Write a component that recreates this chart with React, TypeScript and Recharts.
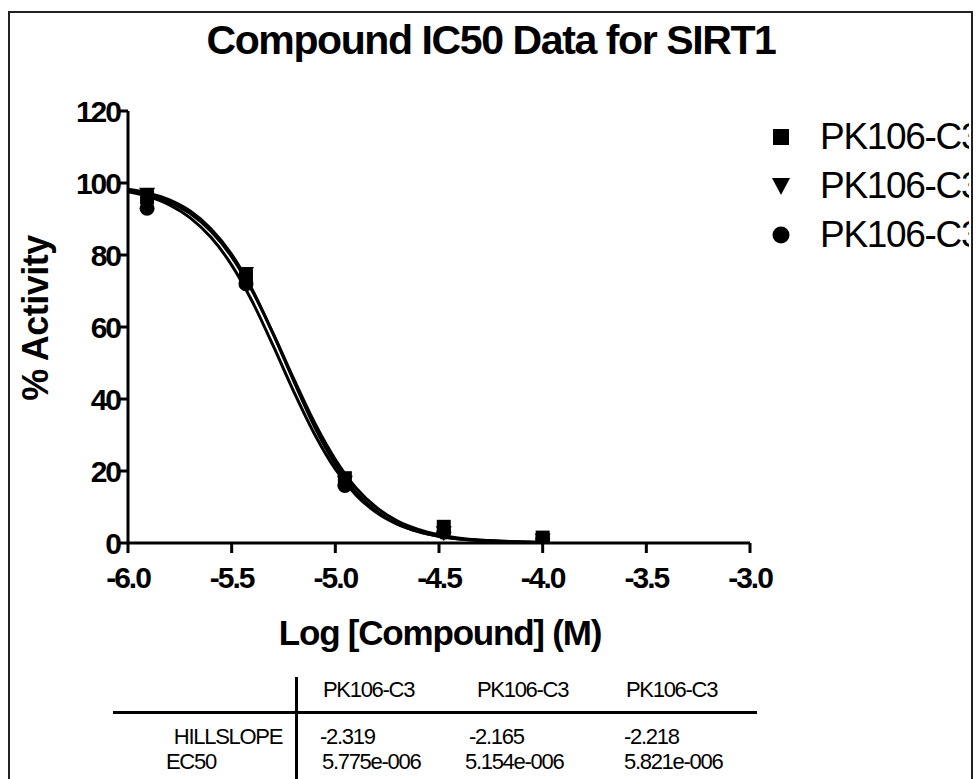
import React from "react";
import { ComposedChart, Line, Scatter, XAxis, YAxis } from "recharts";

// Dose points (log M) and measured % activity for the three replicates
const doseX = [-5.908, -5.431, -4.954, -4.477, -4.0];
const squareY = [96, 74, 18, 4.5, 1.5];
const triangleY = [97, 75, 17, 3, 1];
const circleY = [93, 72, 16, 3, 1.2];

// Fitted curves
const curveX = [-6.0, -5.9, -5.8, -5.7, -5.6, -5.5, -5.4, -5.3, -5.2, -5.1, -5.0, -4.9, -4.8, -4.7, -4.6, -4.5, -4.3, -4.0];
const curve1 = [98.3, 97.2, 95.3, 92.2, 87.3, 80.2, 70.3, 58.1, 44.9, 32.3, 21.9, 14.1, 8.8, 5.3, 3.2, 1.9, 0.7, 0.1];
const curve2 = [97.6, 96.2, 93.9, 90.3, 84.9, 77.2, 67.0, 54.8, 42.0, 30.2, 20.5, 13.3, 8.4, 5.2, 3.2, 1.9, 0.7, 0.2];
const curve3 = [98.0, 96.8, 94.7, 91.5, 86.6, 79.5, 69.9, 58.2, 45.5, 33.4, 23.2, 15.3, 9.8, 6.1, 3.8, 2.3, 0.8, 0.2];

const xTicks = [-6.0, -5.5, -5.0, -4.5, -4.0, -3.5, -3.0];
const yTicks = [0, 20, 40, 60, 80, 100, 120];

const seriesNames = ["PK106-C3", "PK106-C3", "PK106-C3"];
const tableRows = ["HILLSLOPE", "EC50"];
const hillSlopes = ["-2.319", "-2.165", "-2.218"];
const ec50s = ["5.775e-006", "5.154e-006", "5.821e-006"];

const FONT = "'Liberation Sans', Arial, sans-serif";

const toPts = (xs: number[], ys: number[]) => xs.map((x, i) => ({ x, y: ys[i] }));

const SquareShape = (p: any) => (
  <rect x={p.cx - 7} y={p.cy - 7} width={14} height={14} fill="#000" />
);
const TriangleShape = (p: any) => (
  <polygon points={`${p.cx - 8},${p.cy - 6} ${p.cx + 8},${p.cy - 6} ${p.cx},${p.cy + 9}`} fill="#000" />
);
const CircleShape = (p: any) => <circle cx={p.cx} cy={p.cy} r={7.5} fill="#000" />;

const XTick = (p: any) => (
  <text x={p.x} y={p.y + 33} textAnchor="middle" fontFamily={FONT} fontWeight="bold" fontSize={30} letterSpacing={-2} fill="#000">
    {Number(p.payload.value).toFixed(1)}
  </text>
);
const YTick = (p: any) => (
  <text x={p.x + 2} y={p.y} dy="0.36em" textAnchor="end" fontFamily={FONT} fontWeight="bold" fontSize={30} letterSpacing={-2} fill="#000">
    {p.payload.value}
  </text>
);

const legendShapes = [
  <rect x={2} y={2} width={16} height={16} fill="#000" />,
  <polygon points="1,2 19,2 10,19" fill="#000" />,
  <circle cx={10} cy={10} r={8.5} fill="#000" />,
];

const cellStyle: React.CSSProperties = {
  position: "absolute",
  fontFamily: FONT,
  fontSize: 22,
  letterSpacing: -1.3,
  lineHeight: "26px",
  whiteSpace: "nowrap",
  color: "#000",
};

export default function App() {
  return (
    <div style={{ position: "absolute", left: 0, top: 0, width: 979, height: 779, overflow: "hidden", background: "#fff" }}>
      <div style={{ position: "absolute", left: 8, top: 11, width: 961, height: 800, border: "2px solid #222", borderBottom: "none" }} />
      <div style={{ position: "absolute", left: 0, top: 0 }}>
        <ComposedChart width={979} height={779} margin={{ top: 111, right: 229, bottom: 176, left: 38 }}>
          <text x={491} y={54} textAnchor="middle" fontFamily={FONT} fontWeight="bold" fontSize={41} letterSpacing={-1.4} fill="#000">
            Compound IC50 Data for SIRT1
          </text>
          <text x={35} y={318} transform="rotate(-90, 35, 318)" dy="0.36em" textAnchor="middle" fontFamily={FONT} fontWeight="bold" fontSize={36} letterSpacing={-0.5} fill="#000">
            % Activity
          </text>
          <text x={440} y={645} textAnchor="middle" fontFamily={FONT} fontWeight="bold" fontSize={35} letterSpacing={-1.2} fill="#000">
            Log [Compound] (M)
          </text>
          <XAxis
            dataKey="x"
            type="number"
            domain={[-6, -3]}
            ticks={xTicks}
            allowDataOverflow
            height={60}
            tickSize={10}
            tickMargin={2}
            axisLine={{ stroke: "#000", strokeWidth: 3 }}
            tickLine={{ stroke: "#000", strokeWidth: 3 }}
            tick={<XTick />}
          />
          <YAxis
            dataKey="y"
            type="number"
            domain={[0, 120]}
            ticks={yTicks}
            allowDataOverflow
            width={90}
            tickSize={8}
            tickMargin={2}
            axisLine={{ stroke: "#000", strokeWidth: 3 }}
            tickLine={{ stroke: "#000", strokeWidth: 3 }}
            tick={<YTick />}
          />
          <Line data={toPts(curveX, curve1)} dataKey="y" type="monotone" stroke="#000" strokeWidth={3} dot={false} isAnimationActive={false} />
          <Line data={toPts(curveX, curve2)} dataKey="y" type="monotone" stroke="#000" strokeWidth={3} dot={false} isAnimationActive={false} />
          <Line data={toPts(curveX, curve3)} dataKey="y" type="monotone" stroke="#000" strokeWidth={3} dot={false} isAnimationActive={false} />
          <Scatter data={toPts(doseX, squareY)} dataKey="y" shape={SquareShape} isAnimationActive={false} />
          <Scatter data={toPts(doseX, triangleY)} dataKey="y" shape={TriangleShape} isAnimationActive={false} />
          <Scatter data={toPts(doseX, circleY)} dataKey="y" shape={CircleShape} isAnimationActive={false} />
        </ComposedChart>
      </div>
      {/* Legend, clipped at the frame */}
      <div style={{ position: "absolute", left: 760, top: 112, width: 209, height: 150, overflow: "hidden" }}>
        {seriesNames.map((n, i) => (
          <div key={i} style={{ position: "absolute", left: 0, top: i * 49, height: 50, display: "flex", alignItems: "center", whiteSpace: "nowrap" }}>
            <svg width={20} height={20} style={{ marginLeft: 11 }}>{legendShapes[i]}</svg>
            <span style={{ marginLeft: 29, fontFamily: FONT, fontSize: 37, letterSpacing: -1.3, color: "#000" }}>{n}</span>
          </div>
        ))}
      </div>
      {/* Parameter table */}
      <div style={{ position: "absolute", left: 295, top: 677, width: 3, height: 110, background: "#000" }} />
      <div style={{ position: "absolute", left: 113, top: 711, width: 644, height: 3, background: "#000" }} />
      {seriesNames.map((n, i) => (
        <div key={"h" + i} style={{ ...cellStyle, left: [323, 477, 626][i], top: 677 }}>{n}</div>
      ))}
      <div style={{ ...cellStyle, right: 979 - 282, top: 724 }}>{tableRows[0]}</div>
      <div style={{ ...cellStyle, left: 166, top: 749 }}>{tableRows[1]}</div>
      {hillSlopes.map((v, i) => (
        <div key={"s" + i} style={{ ...cellStyle, left: [320, 469, 624][i], top: 724 }}>{v}</div>
      ))}
      {ec50s.map((v, i) => (
        <div key={"e" + i} style={{ ...cellStyle, left: [322, 465, 624][i], top: 749 }}>{v}</div>
      ))}
    </div>
  );
}
